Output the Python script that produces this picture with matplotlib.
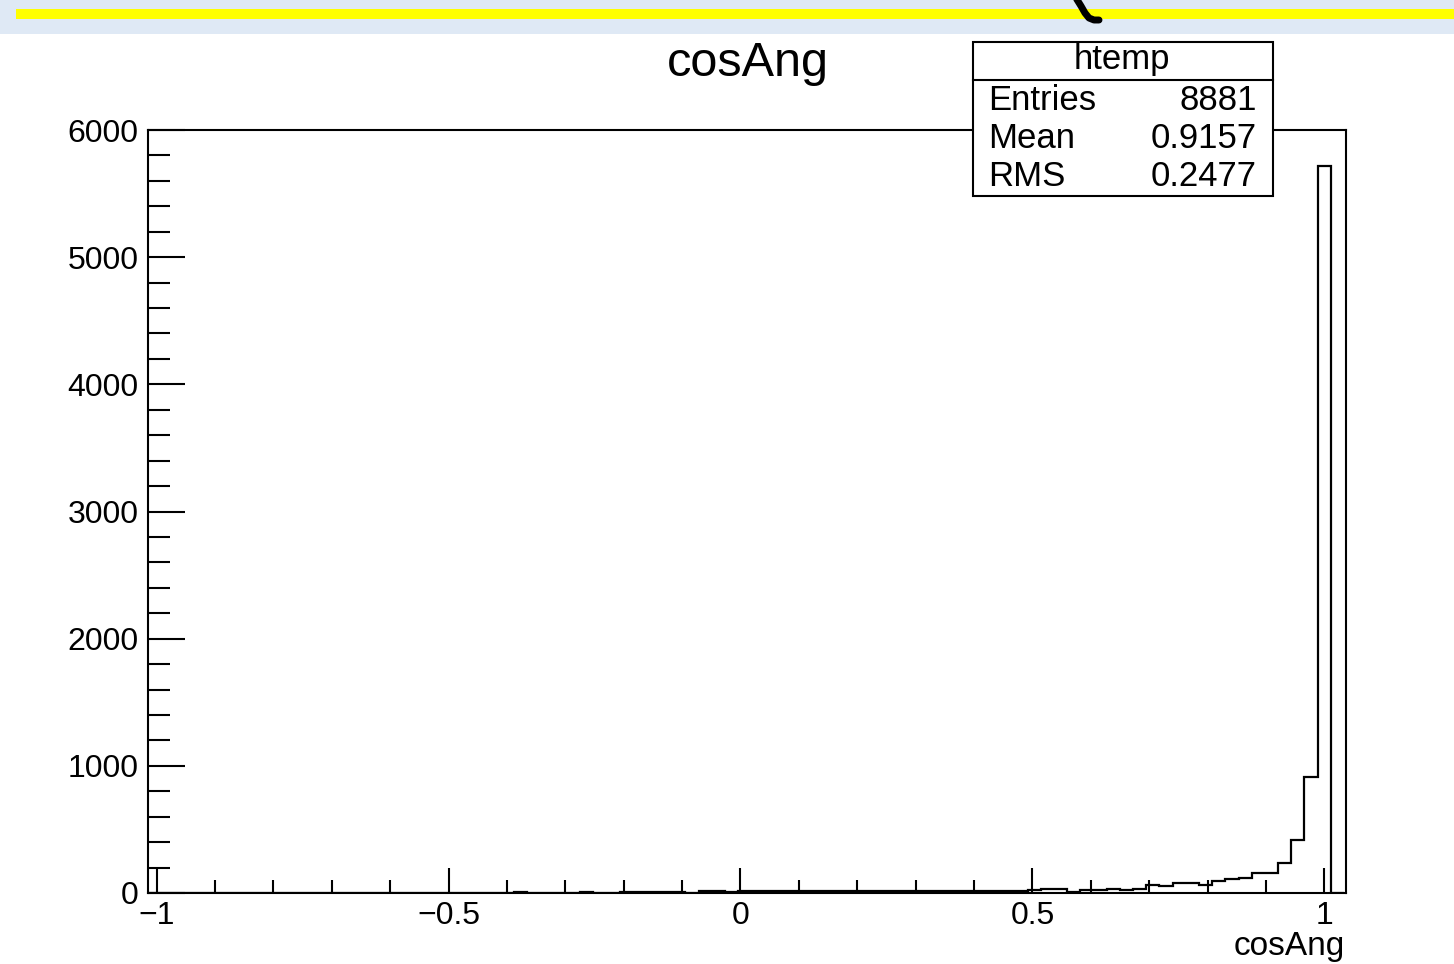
import numpy as np
import matplotlib
matplotlib.use("Agg")
import matplotlib.pyplot as plt
from matplotlib.patches import Rectangle
from matplotlib.lines import Line2D

plt.rcParams['font.family'] = ['Liberation Sans', 'DejaVu Sans']

# histogram of cosAng (htemp), equal bins starting at bin_lo
bin_lo = -1.0194
bin_width = 0.02256
counts = [
    0, 0, 0, 0, 0, 0, 0, 0, 0, 0,          # 0-9
    0, 0, 0, 0, 0, 0, 0, 0, 0, 0,          # 10-19
    0, 0, 0, 0, 0, 0, 0, 3, 10, 0,         # 20-29
    0, 0, 0, 8, 0, 0, 8, 10, 8, 10,        # 30-39
    4, 3, 12, 12, 4, 12, 12, 15, 16, 15,   # 40-49
    17, 16, 18, 17, 16, 18, 17, 18, 17, 18,  # 50-59
    17, 18, 17, 18, 17, 18, 18, 25, 30, 28,  # 60-69
    10, 26, 27, 28, 27, 30, 62, 57, 79, 82,  # 70-79
    66, 92, 110, 118, 160, 160, 236, 414, 912, 5720,  # 80-89
    0,
]

x_major = [-1, -0.5, 0, 0.5, 1]
x_major_labels = ['\u22121', '\u22120.5', '0', '0.5', '1']
y_major = [0, 1000, 2000, 3000, 4000, 5000, 6000]

title = "cosAng"
x_label = "cosAng"
stats_name = "htemp"
stats_rows = [("Entries", "8881"), ("Mean", "0.9157"), ("RMS", "0.2477")]

W, H = 1454, 964


def fx(px):
    return px / W


def fy(py):
    return 1 - py / H


fig = plt.figure(figsize=(W / 100, H / 100), dpi=100)
fig.patch.set_facecolor('white')

# top strip of the screenshot
fig.patches.append(Rectangle((0, fy(34)), 1, 34 / H, transform=fig.transFigure,
                             facecolor='#dfe9f5', edgecolor='none', zorder=0))
fig.patches.append(Rectangle((fx(16), fy(19)), 1, 10 / H, transform=fig.transFigure,
                             facecolor='#ffff00', edgecolor='none', zorder=0.5))
curl = [(1076, -2), (1081, 6), (1085, 13), (1089, 18), (1094, 20), (1099, 20)]
fig.lines.append(Line2D([fx(p[0]) for p in curl], [fy(p[1]) for p in curl],
                        transform=fig.transFigure, color='black', lw=5,
                        solid_capstyle='round', zorder=1))

# frame
ax = fig.add_axes([fx(148.3), fy(893), (1346 - 148.3) / W, (893 - 130) / H])
edges = bin_lo + bin_width * np.arange(len(counts) + 1)
ax.stairs(counts, edges, color='black', lw=1.6)

ax.set_xlim(-1.0144, 1.0372)
ax.set_ylim(0, 6000)

ax.set_xticks(x_major)
ax.set_xticklabels(x_major_labels)
ax.set_xticks(np.round(np.arange(-1, 1.01, 0.1), 2), minor=True)
ax.set_yticks(y_major)
ax.set_yticks(np.arange(0, 6001, 200), minor=True)

for s in ax.spines.values():
    s.set_linewidth(1.5)

ax.tick_params(axis='both', which='both', direction='in', width=1.5,
               labelsize=23, top=False, right=False)
ax.tick_params(axis='x', which='major', length=18, pad=6)
ax.tick_params(axis='x', which='minor', length=9.5)
ax.tick_params(axis='y', which='major', length=26.5, pad=7)
ax.tick_params(axis='y', which='minor', length=16)

# title and axis title
fig.text(fx(748), fy(64), title, ha='center', va='center', fontsize=35)
fig.text(fx(1345), fy(946), x_label, ha='right', va='center', fontsize=24)

# stats box
fig.patches.append(Rectangle((fx(973), fy(196)), 300 / W, 154 / H,
                             transform=fig.transFigure, facecolor='white',
                             edgecolor='black', lw=1.5, zorder=2))
fig.lines.append(Line2D([fx(973), fx(1273)], [fy(80), fy(80)],
                        transform=fig.transFigure, color='black', lw=1.5, zorder=3))
fig.text(fx(1122), fy(60), stats_name, ha='center', va='center', fontsize=25, zorder=4)
for i, (name, val) in enumerate(stats_rows):
    yy = fy(100 + i * 38.5)
    fig.text(fx(988), yy, name, ha='left', va='center', fontsize=25, zorder=4)
    fig.text(fx(1257), yy, val, ha='right', va='center', fontsize=25, zorder=4)

fig.savefig("out.png", dpi=100)
